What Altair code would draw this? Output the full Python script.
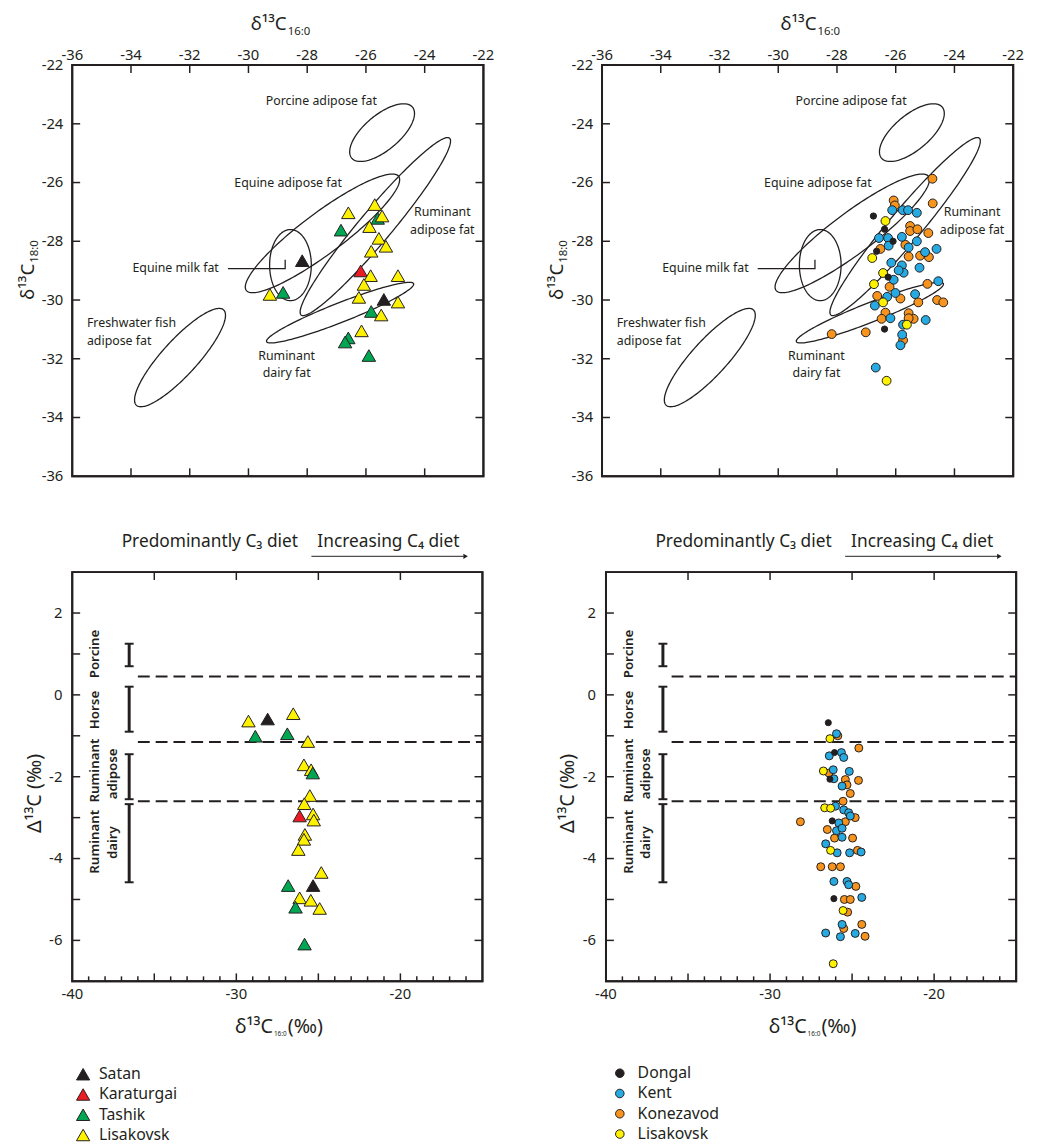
import altair as alt
import numpy as np
import pandas as pd

INK = "#231F20"
FONT = "Noto Sans"

# ---------------- reference ellipses for the top panels ----------------
ell_names = ["Porcine", "EquineAdipose", "EquineMilk", "RuminantAdipose", "RuminantDairy", "Fish"]
ell_cx = [-25.45, -27.48, -28.57, -25.68, -26.88, -32.33]
ell_cy = [-24.30, -27.73, -28.81, -27.50, -30.43, -31.96]
ell_a = [1.35, 3.24, 1.21, 3.93, 2.69, 2.20]
ell_b = [0.60, 0.70, 0.71, 0.55, 0.33, 0.60]
ell_tilt = [40, 36.8, 90, 50, 21.5, 47.6]

lab_text = ["Porcine adipose fat", "Equine adipose fat", "Ruminant", "adipose fat",
            "Equine milk fat", "Freshwater fish", "adipose fat", "Ruminant", "dairy fat"]
lab_x = [-27.52, -28.65, -23.40, -23.40, -32.48, -35.50, -35.50, -28.70, -28.70]
lab_y = [-23.24, -26.00, -27.02, -27.61, -28.92, -30.80, -31.40, -31.91, -32.50]
lab_align = ["center", "center", "center", "center", "center", "left", "left", "center", "center"]

conn_x = [-30.70, -28.75, -28.75]
conn_y = [-28.93, -28.93, -28.63]

top_dom = [-36, -22]
top_ticks = [-34, -32, -30, -28, -26, -24]
top_labels = [-36, -34, -32, -30, -28, -26, -24, -22]

# ---------------- top-left: triangles ----------------
tri_sites = ["Satan", "Karaturgai", "Tashik", "Lisakovsk"]
tri_colors = ["#231F20", "#ED1C24", "#00A651", "#FFF200"]

satan_x = [-28.17, -25.39]
satan_y = [-28.66, -29.98]
karaturgai_x = [-26.18]
karaturgai_y = [-29.01]
tashik_x = [-28.82, -26.85, -25.60, -25.82, -26.60, -26.71, -25.90]
tashik_y = [-29.74, -27.62, -27.22, -30.39, -31.29, -31.43, -31.89]
lisakovsk_x = [-29.27, -26.60, -25.70, -25.45, -25.88, -25.56, -25.32, -25.82,
               -25.84, -24.91, -26.07, -26.24, -24.91, -25.48, -26.15]
lisakovsk_y = [-29.81, -27.03, -26.75, -27.14, -27.50, -27.90, -28.17, -28.34,
               -29.17, -29.17, -29.47, -29.91, -30.07, -30.51, -31.05]

# ---------------- top-right: circles ----------------
circ_sites = ["Dongal", "Kent", "Konezavod", "Lisakovsk"]
circ_colors = ["#231F20", "#27AAE1", "#F7941D", "#FFF200"]

konezavod_x = [-24.75, -24.74, -26.07, -26.03, -25.51, -25.51, -25.26, -24.89, -25.67, -26.52,
               -25.56, -25.17, -24.87, -26.21, -24.92, -26.63, -25.84, -25.23, -24.59, -24.38,
               -26.35, -25.56, -25.39, -25.56, -26.48, -28.18, -27.02, -25.75]
konezavod_y = [-25.87, -26.71, -26.61, -26.78, -27.48, -27.65, -27.59, -27.72, -28.12, -28.26,
               -28.52, -28.49, -28.54, -29.55, -29.45, -29.86, -29.95, -30.08, -30.00, -30.08,
               -30.43, -30.45, -30.64, -30.62, -30.64, -31.16, -31.10, -31.37]
kent_x = [-26.12, -25.76, -25.58, -25.28, -26.57, -26.26, -25.79, -25.28, -26.24, -25.56,
          -25.00, -24.61, -26.15, -25.79, -25.19, -25.73, -25.90, -24.55, -26.07, -26.01,
          -26.29, -25.34, -26.71, -24.98, -26.18, -25.75, -25.78, -25.84, -26.68]
kent_y = [-26.94, -26.94, -26.94, -27.03, -27.89, -27.89, -27.85, -28.00, -28.15, -28.21,
          -28.37, -28.26, -28.73, -28.82, -28.90, -29.07, -28.99, -29.36, -29.31, -29.76,
          -29.89, -29.80, -30.19, -30.68, -30.62, -30.84, -31.18, -31.54, -32.30]
lisak_c_x = [-26.35, -26.80, -26.43, -26.74, -26.43, -25.62, -26.31]
lisak_c_y = [-27.31, -28.57, -29.08, -29.46, -30.08, -30.84, -32.75]
dongal_x = [-26.76, -26.38, -26.09, -26.65, -26.26, -26.38]
dongal_y = [-27.14, -27.59, -28.00, -28.34, -29.22, -30.99]

# ---------------- bottom-left: triangles (delta vs d13C16:0) ----------------
satan_bx = [-28.09, -25.32]
satan_by = [-0.59, -4.66]
karaturgai_bx = [-26.14]
karaturgai_by = [-2.96]
tashik_bx = [-28.84, -26.89, -25.34, -26.84, -26.39, -25.84]
tashik_by = [-1.01, -0.95, -1.91, -4.66, -5.19, -6.09]
lisakovsk_bx = [-29.26, -26.53, -25.64, -25.88, -25.44, -25.52, -25.86, -25.32,
                -25.28, -25.82, -25.88, -26.22, -24.82, -26.14, -25.46, -24.92]
lisakovsk_by = [-0.64, -0.46, -1.14, -1.71, -1.83, -2.46, -2.66, -2.91,
                -3.06, -3.41, -3.53, -3.78, -4.34, -4.96, -5.02, -5.22]

# ---------------- bottom-right: circles ----------------
konezavod_bx = [-25.87, -24.59, -26.41, -25.41, -24.61, -25.31, -25.11, -25.55, -24.81, -28.15,
                -25.41, -26.51, -26.07, -24.97, -24.67, -26.91, -26.21, -25.71, -24.77, -25.47,
                -25.11, -25.27, -25.51, -24.41, -24.21]
konezavod_by = [-1.00, -1.30, -1.91, -2.07, -2.09, -2.20, -2.41, -2.60, -3.00, -3.10,
                -3.10, -3.29, -3.50, -3.50, -3.80, -4.20, -4.20, -4.20, -4.68, -5.00,
                -5.00, -5.31, -5.71, -5.61, -5.90]
kent_bx = [-25.95, -26.39, -25.65, -25.51, -26.15, -25.17, -26.11, -25.61, -26.01, -25.51,
           -25.21, -25.11, -25.81, -25.95, -25.61, -25.61, -26.61, -25.91, -25.15, -24.45,
           -26.11, -25.31, -25.21, -24.41, -25.61, -26.61, -25.71, -24.81]
kent_by = [-0.95, -1.49, -1.41, -1.53, -1.83, -1.87, -2.05, -2.23, -2.72, -2.81,
           -2.88, -2.96, -3.13, -3.32, -3.26, -3.48, -3.64, -3.86, -3.86, -3.84,
           -4.56, -4.56, -4.64, -4.95, -5.61, -5.82, -5.91, -5.83]
lisak_c_bx = [-26.35, -26.75, -26.67, -26.31, -26.31, -25.55, -26.15]
lisak_c_by = [-1.07, -1.86, -2.76, -2.77, -3.80, -5.27, -6.57]
dongal_bx = [-26.45, -26.07, -26.35, -26.21, -26.11]
dongal_by = [-0.68, -1.41, -2.06, -3.08, -4.98]

# ---------------- bottom-panel reference ranges ----------------
bot_xdom = [-40, -15]
bot_ydom = [-7, 3]
band_y = [0.45, -1.15, -2.60]
band_x0 = -36.0
band_x1 = -15.0
range_x = -36.53
range_lo = [0.70, -0.90, -2.55, -4.58]
range_hi = [1.25, 0.20, -1.45, -2.67]
rl_text = ["Porcine", "Horse", "Ruminant", "adipose", "Ruminant", "dairy"]
rl_x = [-38.58, -38.58, -38.58, -37.53, -38.58, -37.53]
rl_y = [1.00, -0.37, -1.85, -1.93, -3.59, -3.61]

bot_y_ticks = [2, 1, 0, -1, -2, -3, -4, -5, -6]
bot_x_major = [-35, -30, -25, -20]
bot_x_minor = [v for v in range(-39, -15) if v % 5 != 0]
bot_x_labels = [-40, -30, -20]
bot_y_labels = [-6, -4, -2, 0, 2]

# ======================================================================


def pts_df(groups):
    rows = []
    for site, xs, ys in groups:
        for x, y in zip(xs, ys):
            rows.append({"site": site, "x": x, "y": y})
    return pd.DataFrame(rows)


t = np.linspace(0, 2 * np.pi, 181)
ell_rows = []
for n, cx, cy, a, b, th in zip(ell_names, ell_cx, ell_cy, ell_a, ell_b, ell_tilt):
    r = np.radians(th)
    ex = cx + a * np.cos(t) * np.cos(r) - b * np.sin(t) * np.sin(r)
    ey = cy + a * np.cos(t) * np.sin(r) + b * np.sin(t) * np.cos(r)
    for i, (px, py) in enumerate(zip(ex, ey)):
        ell_rows.append({"name": n, "i": i, "x": float(px), "y": float(py)})
ell_df = pd.DataFrame(ell_rows)
lab_df = pd.DataFrame({"t": lab_text, "x": lab_x, "y": lab_y, "al": lab_align})
conn_df = pd.DataFrame({"x": conn_x, "y": conn_y, "i": [0, 1, 2]})


def ptext(text, x, y, size, align="left", baseline="alphabetic", angle=0, weight="normal"):
    return alt.Chart(pd.DataFrame({"t": [text]})).mark_text(
        align=align, baseline=baseline, angle=angle, fontSize=size, font=FONT,
        color=INK, fontWeight=weight
    ).encode(x=alt.value(x), y=alt.value(y), text="t:N")


def tick_labels(X, Y, xvals, yvals, xlab_y, xbase, ylab_x):
    xd = pd.DataFrame({"v": xvals, "s": [str(v) for v in xvals]})
    yd = pd.DataFrame({"v": yvals, "s": [str(v) for v in yvals]})
    xl = alt.Chart(xd).mark_text(align="center", baseline=xbase, fontSize=15, font=FONT,
                                 color=INK).encode(x=X("v"), y=alt.value(xlab_y), text="s:N")
    yl = alt.Chart(yd).mark_text(align="right", baseline="middle", fontSize=15, font=FONT,
                                 color=INK).encode(y=Y("v"), x=alt.value(ylab_x), text="s:N")
    return [xl, yl]


def frame_and_ticks(X, Y, xdom, ydom, xt_top, xt_bot, xt_minor, yt, big=8, small=5):
    """Panel border and inward ticks, drawn from the axis domain / tick values."""
    out = []
    fdf = pd.DataFrame({"x0": [xdom[0]], "x1": [xdom[1]], "y0": [ydom[0]], "y1": [ydom[1]]})
    out.append(alt.Chart(fdf).mark_rect(fillOpacity=0, stroke=INK, strokeWidth=2).encode(
        x=X("x0"), x2="x1:Q", y=Y("y0"), y2="y1:Q"))
    specs = [
        (xt_top, ydom[1], big / 2, big),
        (xt_bot, ydom[0], -big / 2, big),
        (xt_minor, ydom[0], -small / 2, small),
    ]
    for vals, edge, yo, size in specs:
        if not vals:
            continue
        d = pd.DataFrame({"v": vals, "e": [edge] * len(vals)})
        out.append(alt.Chart(d).mark_tick(color=INK, orient="vertical", size=size, thickness=1.5,
                                          opacity=1, yOffset=yo).encode(x=X("v"), y=Y("e")))
    for edge, xo in [(xdom[0], big / 2), (xdom[1], -big / 2)]:
        d = pd.DataFrame({"v": yt, "e": [edge] * len(yt)})
        out.append(alt.Chart(d).mark_tick(color=INK, orient="horizontal", size=big,
                                          thickness=1.5, opacity=1, xOffset=xo).encode(
            x=X("e"), y=Y("v")))
    return out


TW, TH = 416, 416


def top_panel(points_layer):
    xs = alt.Scale(domain=top_dom, nice=False, zero=False)
    ys = alt.Scale(domain=top_dom, nice=False, zero=False)

    def X(f):
        return alt.X(f + ":Q", scale=xs, axis=None)

    def Y(f):
        return alt.Y(f + ":Q", scale=ys, axis=None)

    ell = alt.Chart(ell_df).mark_line(color=INK, strokeWidth=1.3).encode(
        x=X("x"), y=Y("y"), detail="name:N", order="i:Q")
    conn = alt.Chart(conn_df).mark_line(color=INK, strokeWidth=1.3).encode(
        x=X("x"), y=Y("y"), order="i:Q")
    labs = []
    for al in ["center", "left"]:
        labs.append(alt.Chart(lab_df[lab_df.al == al]).mark_text(
            align=al, baseline="middle", fontSize=12.5, font=FONT, color=INK).encode(
            x=X("x"), y=Y("y"), text="t:N"))
    fr = frame_and_ticks(X, Y, top_dom, top_dom, top_ticks, top_ticks, [], top_ticks)
    tl = tick_labels(X, Y, top_labels, top_labels, -5, "alphabetic", -9)
    pts = points_layer(X, Y)
    titles = [
        ptext("δ¹³C", 217, -35, 19, align="right"),
        ptext("16:0", 218, -30, 11.5, align="left"),
        ptext("δ¹³C", -39, 201, 19, align="right", angle=270),
        ptext("18:0", -35, 200, 11.5, align="left", angle=270),
    ]
    return alt.layer(ell, conn, *labs, *fr, *tl, pts, *titles).properties(width=TW, height=TH)


BW, BH = 415, 414


def bottom_panel(points_layer):
    xs = alt.Scale(domain=bot_xdom, nice=False, zero=False)
    ys = alt.Scale(domain=bot_ydom, nice=False, zero=False)

    def X(f):
        return alt.X(f + ":Q", scale=xs, axis=None)

    def Y(f):
        return alt.Y(f + ":Q", scale=ys, axis=None)

    bdf = pd.DataFrame({"y": band_y, "x0": [band_x0] * 3, "x1": [band_x1] * 3})
    bands = alt.Chart(bdf).mark_rule(color=INK, strokeWidth=2, strokeDash=[12, 6]).encode(
        x=X("x0"), x2="x1:Q", y=Y("y"))
    rdf = pd.DataFrame({"x": [range_x] * 4, "lo": range_lo, "hi": range_hi})
    bars = alt.Chart(rdf).mark_rule(color=INK, strokeWidth=3).encode(
        x=X("x"), y=Y("lo"), y2="hi:Q")
    cdf = pd.DataFrame({"x": [range_x] * 8, "y": range_lo + range_hi})
    caps = alt.Chart(cdf).mark_tick(color=INK, orient="horizontal", size=9, thickness=2,
                                    opacity=1).encode(x=X("x"), y=Y("y"))
    ldf = pd.DataFrame({"t": rl_text, "x": rl_x, "y": rl_y})
    rlabs = alt.Chart(ldf).mark_text(angle=270, align="center", baseline="middle", fontSize=13.5,
                                     font=FONT, color=INK, fontWeight=600).encode(
        x=X("x"), y=Y("y"), text="t:N")
    fr = frame_and_ticks(X, Y, bot_xdom, bot_ydom, bot_x_major, bot_x_major, bot_x_minor,
                         bot_y_ticks)
    tl = tick_labels(X, Y, bot_x_labels, bot_y_labels, BH + 18, "alphabetic", -10)
    pts = points_layer(X, Y)
    arrow_line = alt.Chart(pd.DataFrame({"a": [0]})).mark_rule(color=INK, strokeWidth=1).encode(
        x=alt.value(242), x2=alt.value(396), y=alt.value(-16))
    arrow_head = alt.Chart(pd.DataFrame({"a": [0]})).mark_point(
        shape="triangle-right", filled=True, size=28, color=INK, opacity=1).encode(
        x=alt.value(398), y=alt.value(-16))
    titles = [
        ptext("Predominantly C₃ diet", 50, -25, 17.5),
        ptext("Increasing C₄ diet", 248, -25, 17.5),
        ptext("δ¹³C", 203, 466, 20, align="right"),
        ptext("16:0", 204, 469, 6.5, align="left"),
        ptext("(‰)", 218, 466, 20, align="left"),
        ptext("Δ¹³C (‰)", -32, 224, 20, align="center", angle=270),
    ]
    return alt.layer(bands, bars, caps, rlabs, *fr, *tl, pts, arrow_line,
                     arrow_head, *titles).properties(width=BW, height=BH)


tri_top = pts_df([("Satan", satan_x, satan_y), ("Karaturgai", karaturgai_x, karaturgai_y),
                  ("Tashik", tashik_x, tashik_y), ("Lisakovsk", lisakovsk_x, lisakovsk_y)])
tri_bot = pts_df([("Lisakovsk", lisakovsk_bx, lisakovsk_by), ("Tashik", tashik_bx, tashik_by),
                  ("Karaturgai", karaturgai_bx, karaturgai_by), ("Satan", satan_bx, satan_by)])
circ_top = pts_df([("Konezavod", konezavod_x, konezavod_y), ("Kent", kent_x, kent_y),
                   ("Lisakovsk", lisak_c_x, lisak_c_y)])
dong_top = pts_df([("Dongal", dongal_x, dongal_y)])
circ_bot = pts_df([("Konezavod", konezavod_bx, konezavod_by), ("Kent", kent_bx, kent_by),
                   ("Lisakovsk", lisak_c_bx, lisak_c_by)])
dong_bot = pts_df([("Dongal", dongal_bx, dongal_by)])


def tri_layer(df, legend):
    def f(X, Y):
        return alt.Chart(df).mark_point(shape="triangle-up", filled=True, size=185, stroke=INK,
                                        strokeWidth=1, opacity=1).encode(
            x=X("x"), y=Y("y"),
            fill=alt.Fill("site:N", scale=alt.Scale(domain=tri_sites, range=tri_colors),
                          legend=legend))
    return f


def circ_layer(df, ddf, size, dsize, legend):
    def f(X, Y):
        fill = alt.Fill("site:N", scale=alt.Scale(domain=circ_sites, range=circ_colors),
                        legend=legend)
        main = alt.Chart(df).mark_point(shape="circle", filled=True, size=size, stroke=INK,
                                        strokeWidth=1, opacity=1).encode(
            x=X("x"), y=Y("y"), fill=fill)
        dong = alt.Chart(ddf).mark_point(shape="circle", filled=True, size=dsize, stroke=INK,
                                         strokeWidth=1, opacity=1).encode(
            x=X("x"), y=Y("y"), fill=fill)
        return alt.layer(main, dong)
    return f


legL = alt.Legend(orient="none", legendX=3, legendY=500, title=None, direction="vertical",
                  labelFont=FONT, labelFontSize=16, labelColor=INK, symbolType="triangle-up",
                  symbolSize=180, symbolStrokeColor=INK, symbolStrokeWidth=1, symbolOpacity=1,
                  rowPadding=4.5, labelOffset=8, padding=0)
legR = alt.Legend(orient="none", legendX=6, legendY=499, title=None, direction="vertical",
                  labelFont=FONT, labelFontSize=16, labelColor=INK, symbolType="circle",
                  symbolSize=75, symbolStrokeColor=INK, symbolStrokeWidth=1, symbolOpacity=1,
                  rowPadding=4.5, labelOffset=10, padding=0)

top_left = top_panel(tri_layer(tri_top, None))
top_right = top_panel(circ_layer(circ_top, dong_top, 80, 40, None))
bot_left = bottom_panel(tri_layer(tri_bot, legL))
bot_right = bottom_panel(circ_layer(circ_bot, dong_bot, 65, 38, legR))

row1 = alt.hconcat(top_left, top_right, spacing=120, bounds="flush").resolve_scale(
    fill="independent")
row2 = alt.hconcat(bot_left, bot_right, spacing=125, bounds="flush").resolve_scale(
    fill="independent")

chart = alt.vconcat(row1, row2, spacing=48).resolve_scale(
    fill="independent"
).properties(
    padding={"left": 10, "top": 0, "right": 5, "bottom": 5},
    background="white",
).configure_view(
    stroke=INK, strokeWidth=2
)

chart.save("out.html", embed_options={"renderer": "svg", "actions": False})
